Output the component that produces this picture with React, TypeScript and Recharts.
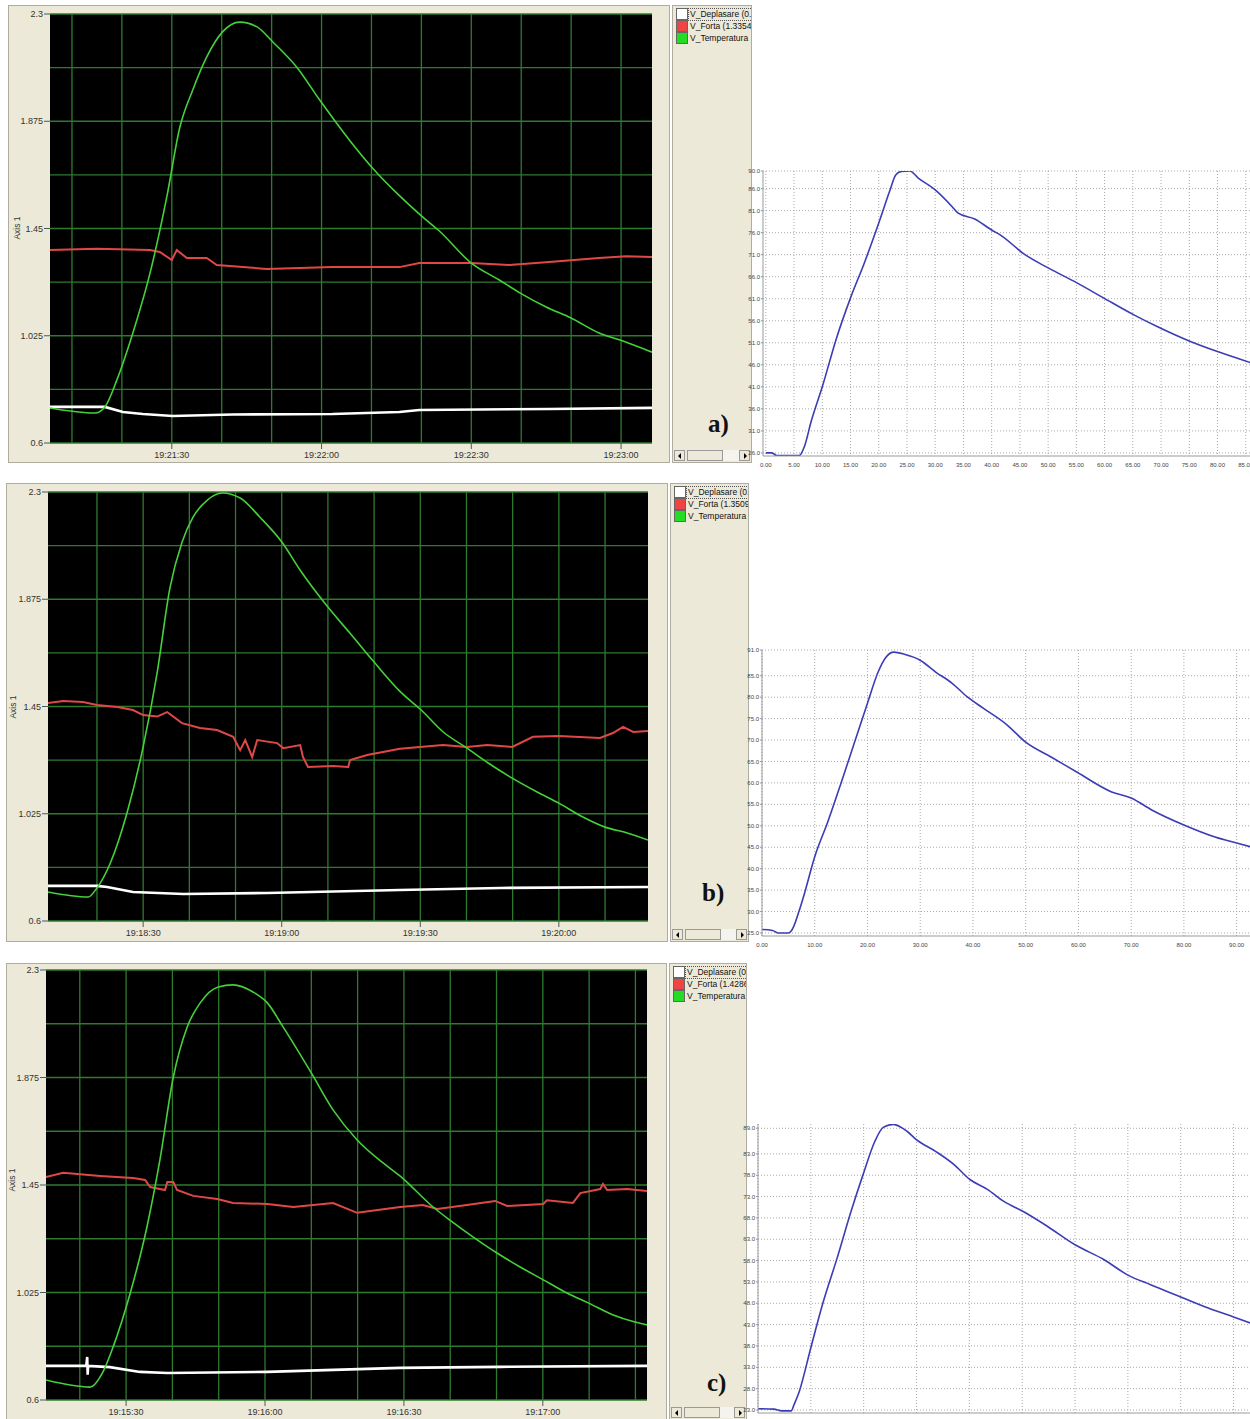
import { LineChart, Line, XAxis, YAxis, CartesianGrid } from "recharts";

// scope charts: time = seconds after 19:00:00, values in volts
// a) run at 19:21
const aTempT = [1265.6, 1274.6, 1276.6, 1279, 1282.2, 1285.6, 1289, 1291.6, 1294.2, 1297, 1300.2, 1303.6, 1307, 1310.2, 1315, 1319.6, 1325.6, 1330.2, 1335.6, 1340, 1343.6, 1350, 1355.6, 1359.8, 1365, 1370, 1375.6, 1379.8, 1386.2];
const aTempV = [0.739, 0.719, 0.743, 0.85, 1.036, 1.27, 1.575, 1.85, 1.999, 2.13, 2.23, 2.268, 2.25, 2.19, 2.09, 1.96, 1.8, 1.69, 1.58, 1.5, 1.44, 1.313, 1.246, 1.194, 1.139, 1.095, 1.036, 1.008, 0.96];
const aForceT = [1265.6, 1275, 1285.6, 1287.6, 1290, 1291, 1293, 1297, 1299, 1309, 1322.2, 1335.6, 1339.6, 1350, 1357.6, 1365.6, 1375.6, 1381, 1386.2];
const aForceV = [1.365, 1.37, 1.365, 1.357, 1.325, 1.365, 1.333, 1.333, 1.305, 1.29, 1.297, 1.297, 1.313, 1.313, 1.305, 1.317, 1.333, 1.34, 1.337];
const aDispT = [1265.6, 1276.6, 1280.2, 1284.2, 1290.2, 1302.2, 1322.2, 1335.6, 1339.6, 1365.6, 1386.2];
const aDispV = [0.743, 0.743, 0.723, 0.715, 0.707, 0.713, 0.715, 0.723, 0.731, 0.735, 0.739];
const aClockTicks = [1290, 1320, 1350, 1380];
const aClockGrid = [1270, 1280, 1290, 1300, 1310, 1320, 1330, 1340, 1350, 1360, 1370, 1380];

// b) run at 19:18
const bTempT = [1089.4, 1098.1, 1100, 1102.9, 1106.5, 1110, 1113, 1115.8, 1118.4, 1120.8, 1123.9, 1127.1, 1131, 1135.3, 1140.1, 1144, 1150, 1154.8, 1160, 1165.6, 1170.2, 1174.9, 1180.1, 1184.7, 1189.9, 1195.3, 1200, 1205.2, 1210, 1214.8, 1219.3];
const bTempV = [0.715, 0.695, 0.731, 0.83, 1.028, 1.29, 1.58, 1.92, 2.1, 2.2, 2.268, 2.296, 2.276, 2.2, 2.1, 1.99, 1.844, 1.74, 1.626, 1.51, 1.436, 1.35, 1.285, 1.226, 1.166, 1.111, 1.067, 1.012, 0.972, 0.949, 0.921];
const bForceT = [1089.4, 1092.7, 1097, 1100, 1104.4, 1107.8, 1110, 1113, 1115.2, 1118.4, 1122.3, 1126, 1129.5, 1131, 1132.1, 1133.6, 1134.7, 1139, 1140.3, 1144, 1144.6, 1145.7, 1151.1, 1154.4, 1154.8, 1158.5, 1165.6, 1174.9, 1180.1, 1184.5, 1189.9, 1194.4, 1200, 1208.9, 1211.7, 1213.9, 1216.1, 1219.3];
const bForceV = [1.464, 1.472, 1.468, 1.456, 1.448, 1.436, 1.416, 1.41, 1.428, 1.384, 1.365, 1.357, 1.33, 1.277, 1.317, 1.25, 1.317, 1.305, 1.285, 1.297, 1.25, 1.21, 1.214, 1.21, 1.238, 1.258, 1.283, 1.297, 1.29, 1.297, 1.29, 1.33, 1.333, 1.325, 1.345, 1.369, 1.349, 1.353];
const bDispT = [1089.4, 1100, 1102.2, 1107.8, 1118.7, 1136.8, 1165.6, 1187.3, 1219.3];
const bDispV = [0.739, 0.739, 0.735, 0.715, 0.707, 0.711, 0.723, 0.731, 0.735];
const bClockTicks = [1110, 1140, 1170, 1200];
const bClockGrid = [1100, 1110, 1120, 1130, 1140, 1150, 1160, 1170, 1180, 1190, 1200, 1210];

// c) run at 19:15
const cTempT = [912.7, 922.2, 925, 927.2, 930.9, 934.5, 937.3, 940.2, 943.2, 946, 949.9, 953.1, 957.4, 960.5, 963.9, 970, 974.7, 979.9, 985.5, 989.2, 996.3, 1000, 1004.9, 1010.1, 1015.1, 1020.1, 1025.2, 1029.8, 1035.2, 1039.9, 1042.5];
const cTempV = [0.679, 0.651, 0.711, 0.81, 1.023, 1.284, 1.549, 1.877, 2.075, 2.17, 2.233, 2.241, 2.213, 2.17, 2.075, 1.893, 1.747, 1.628, 1.537, 1.485, 1.363, 1.31, 1.245, 1.181, 1.126, 1.075, 1.023, 0.984, 0.936, 0.908, 0.897];
const cForceT = [912.7, 916.4, 924.4, 931.5, 934.1, 935.2, 938.4, 938.9, 940.2, 941, 944.5, 949.7, 953.1, 960.5, 966.1, 974.7, 979.9, 989.2, 994.1, 997.2, 1003.6, 1009.7, 1012.3, 1020.1, 1020.9, 1026.5, 1028.1, 1032.4, 1033, 1033.9, 1038.2, 1042.5];
const cForceV = [1.482, 1.498, 1.486, 1.478, 1.47, 1.442, 1.43, 1.462, 1.462, 1.43, 1.407, 1.395, 1.379, 1.375, 1.363, 1.379, 1.34, 1.363, 1.371, 1.355, 1.371, 1.387, 1.367, 1.375, 1.39, 1.379, 1.418, 1.434, 1.454, 1.43, 1.434, 1.426];
const cDispT = [912.7, 921.4, 921.6, 921.7, 921.8, 926.5, 933, 938.9, 960.5, 989.2, 1010.8, 1042.5];
const cDispV = [0.735, 0.735, 0.77, 0.7, 0.735, 0.73, 0.711, 0.707, 0.711, 0.727, 0.731, 0.735];
const cClockTicks = [930, 960, 990, 1020];
const cClockGrid = [920, 930, 940, 950, 960, 970, 980, 990, 1000, 1010, 1020, 1030, 1040];

const SCOPE_Y_TICKS = [0.6, 1.025, 1.45, 1.875, 2.3];
const SCOPE_Y_GRID = [0.6, 0.8125, 1.025, 1.2375, 1.45, 1.6625, 1.875, 2.0875, 2.3];

const DISP_NAME = "V_Deplasare (0.";
const TEMP_NAME = "V_Temperatura";
const FORCE_NAMES = ["V_Forta (1.3354", "V_Forta (1.3509", "V_Forta (1.4286"];
const PANEL_TAGS = ["a)", "b)", "c)"];

// temperature curves (s, °C)
const aRiseS = [0, 1, 2, 3, 5, 5.9, 6.9, 8, 10, 12.5, 15, 17.5, 20, 22, 23, 24, 25.5, 27, 30, 33, 34, 37, 40, 41.5, 45.9, 50, 55.1, 59.8, 65.1, 69.3, 75.2, 80, 85.8];
const aRiseC = [26, 26, 25.4, 25.4, 25.4, 25.4, 27.7, 33, 41, 52, 61.2, 69.3, 78.2, 85.7, 89.1, 89.9, 90, 88.4, 85.7, 81.9, 80.5, 79.1, 76.6, 75.5, 71, 68, 64.6, 61.2, 57.4, 54.7, 51.3, 49, 46.5];
const aRiseYTicks = [26, 31, 36, 41, 46, 51, 56, 61, 66, 71, 76, 81, 86, 90];
const aRiseXTicks = [0, 5, 10, 15, 20, 25, 30, 35, 40, 45, 50, 55, 60, 65, 70, 75, 80, 85];

const bRiseS = [0, 2, 3, 5, 5.5, 6, 7, 8, 10, 12.5, 15, 17.5, 20, 22, 23.5, 25, 27, 30, 33, 36, 39, 42, 46.5, 50, 54.9, 60, 66.3, 70, 73.9, 80, 85.9, 90, 93];
const bRiseC = [25.8, 25.6, 25, 25, 25.4, 26.5, 30, 34, 42.8, 51, 60, 69.3, 78.6, 85.8, 89.3, 90.5, 90, 88.6, 85.8, 83.3, 80, 77.4, 73.5, 69.5, 66, 62.3, 57.9, 56.5, 53.7, 50.2, 47.4, 46, 45];
const bRiseYTicks = [25, 30, 35, 40, 45, 50, 55, 60, 65, 70, 75, 80, 85, 91];
const bRiseXTicks = [0, 10, 20, 30, 40, 50, 60, 70, 80, 90];

const cRiseS = [0, 3, 4.5, 6.3, 6.8, 7.8, 10, 12.2, 15, 17.6, 19.9, 22.1, 23.7, 25.6, 28.2, 29.9, 33.6, 37.1, 40.1, 43.4, 46.6, 50.2, 54.8, 60, 65.5, 70, 74.4, 80, 85.2, 90, 93.4];
const cRiseC = [23.3, 23.2, 22.8, 22.8, 24.2, 27.3, 37.6, 47.7, 58.7, 69.5, 78.2, 85.9, 89.2, 89.9, 88.3, 86.4, 83.6, 80.5, 77, 74.7, 71.8, 69.5, 66, 61.7, 58.2, 54.6, 52.3, 49.5, 46.9, 44.8, 43.3];
const cRiseYTicks = [23, 28, 33, 38, 43, 48, 53, 58, 63, 68, 73, 78, 83, 89];
const cRiseXTicks = [0, 10, 20, 30, 40, 50, 60, 70, 80, 90];

const SANS = "'Liberation Sans', Arial, sans-serif";
const BEIGE = "#ece9d8";

type Pt = { t: number; v: number };
const zip = (t: number[], v: number[]): Pt[] => t.map((x, i) => ({ t: x, v: v[i] }));

function clock(s: number) {
  const m = Math.floor(s / 60);
  const sec = Math.round(s - m * 60);
  return `19:${String(m).padStart(2, "0")}:${String(sec).padStart(2, "0")}`;
}

interface ScopeBox {
  left: number;
  top: number;
  width: number;
  height: number;
  mt: number;
  mr: number;
  yw: number;
  xh: number;
}

interface ScopeProps {
  box: ScopeBox;
  domain: [number, number];
  ticks: number[];
  grid: number[];
  disp: Pt[];
  force: Pt[];
  temp: Pt[];
}

function Scope({ box, domain, ticks, grid, disp, force, temp }: ScopeProps) {
  return (
    <div style={{ position: "absolute", left: box.left, top: box.top }}>
      <LineChart width={box.width} height={box.height} margin={{ top: box.mt, right: box.mr, bottom: 0, left: 0 }}>
        <CartesianGrid fill="#000" fillOpacity={1} stroke="#2e7b2e" strokeWidth={1.3} horizontalValues={SCOPE_Y_GRID} verticalValues={grid} />
        <XAxis
          dataKey="t"
          type="number"
          domain={domain}
          ticks={ticks}
          interval={0}
          allowDataOverflow
          tickFormatter={clock}
          height={box.xh}
          axisLine={false}
          tickSize={6}
          tickMargin={3}
          tickLine={{ stroke: "#555" }}
          tick={{ fontSize: 9, fill: "#333", fontFamily: SANS }}
        />
        <YAxis
          type="number"
          domain={[0.6, 2.3]}
          ticks={SCOPE_Y_TICKS}
          interval={0}
          allowDataOverflow
          width={box.yw}
          axisLine={false}
          tickSize={6}
          tickMargin={1}
          tickLine={{ stroke: "#555" }}
          tick={{ fontSize: 9, fill: "#333", fontFamily: SANS }}
        />
        <Line data={disp} dataKey="v" type="linear" stroke="#ffffff" strokeWidth={2.6} dot={false} isAnimationActive={false} />
        <Line data={force} dataKey="v" type="linear" stroke="#e04848" strokeWidth={2} dot={false} isAnimationActive={false} />
        <Line data={temp} dataKey="v" type="monotone" stroke="#45d13a" strokeWidth={1.6} dot={false} isAnimationActive={false} />
      </LineChart>
    </div>
  );
}

interface TraceProps {
  left: number;
  top: number;
  clipH: number;
  width: number;
  height: number;
  mt: number;
  yw: number;
  data: { s: number; c: number }[];
  xDomain: [number, number];
  xTicks: number[];
  yDomain: [number, number];
  yTicks: number[];
}

function Trace({ left, top, clipH, width, height, mt, yw, data, xDomain, xTicks, yDomain, yTicks }: TraceProps) {
  return (
    <div style={{ position: "absolute", left, top, width: 1250 - left, height: clipH, overflow: "hidden" }}>
      <LineChart width={width} height={height} data={data} margin={{ top: mt, right: 0, bottom: 0, left: 0 }}>
        <CartesianGrid stroke="#a9a9a9" strokeDasharray="1 2" horizontalValues={yTicks} verticalValues={xTicks} />
        <XAxis
          dataKey="s"
          type="number"
          domain={xDomain}
          ticks={xTicks}
          interval={0}
          allowDataOverflow
          tickFormatter={(v: number) => v.toFixed(2)}
          height={14}
          axisLine={{ stroke: "#9a9a9a" }}
          tickLine={false}
          tickMargin={1}
          tick={{ fontSize: 6, fill: "#444", fontFamily: SANS }}
        />
        <YAxis
          type="number"
          domain={yDomain}
          ticks={yTicks}
          interval={0}
          allowDataOverflow
          tickFormatter={(v: number) => v.toFixed(1)}
          width={yw}
          axisLine={{ stroke: "#9a9a9a" }}
          tickSize={2}
          tickMargin={1}
          tickLine={{ stroke: "#9a9a9a" }}
          tick={{ fontSize: 6, fill: "#444", fontFamily: SANS }}
        />
        <Line dataKey="c" type="monotone" stroke="#3c3cb6" strokeWidth={1.6} dot={false} isAnimationActive={false} />
      </LineChart>
    </div>
  );
}

function LegendPanel({ left, top, width, height, force }: { left: number; top: number; width: number; height: number; force: string }) {
  const items = [
    { name: DISP_NAME, color: "#ffffff" },
    { name: force, color: "#ee4444" },
    { name: TEMP_NAME, color: "#22dd22" },
  ];
  return (
    <div
      style={{
        position: "absolute",
        left,
        top,
        width,
        height,
        background: BEIGE,
        border: "1px solid #b0ada0",
        boxSizing: "border-box",
        overflow: "hidden",
      }}
    >
      <div style={{ position: "absolute", left: 3, top: 2 }}>
        {items.map((it, i) => (
          <div key={it.name} style={{ display: "flex", alignItems: "center", height: 12 }}>
            <div style={{ width: 10, height: 10, background: it.color, border: "1px solid #666", flex: "none" }} />
            <div
              style={{
                fontFamily: SANS,
                fontSize: 8.5,
                lineHeight: "11px",
                whiteSpace: "nowrap",
                marginLeft: 1,
                padding: "0 1px",
                outline: i === 0 ? "1px dotted #555" : "none",
                color: "#111",
              }}
            >
              {it.name}
            </div>
          </div>
        ))}
      </div>
      <div style={{ position: "absolute", left: 1, right: 1, bottom: 1, height: 11, display: "flex" }}>
        <div style={{ width: 11, height: 11, background: BEIGE, border: "1px solid #999", boxSizing: "border-box", position: "relative" }}>
          <div style={{ position: "absolute", left: 3, top: 2, width: 0, height: 0, borderTop: "3px solid transparent", borderBottom: "3px solid transparent", borderRight: "3px solid #000" }} />
        </div>
        <div style={{ width: 36, height: 11, marginLeft: 2, background: BEIGE, border: "1px solid #999", boxSizing: "border-box" }} />
        <div style={{ flex: 1, height: 11, background: "#f4f3ee" }} />
        <div style={{ width: 11, height: 11, background: BEIGE, border: "1px solid #999", boxSizing: "border-box", position: "relative" }}>
          <div style={{ position: "absolute", left: 4, top: 2, width: 0, height: 0, borderTop: "3px solid transparent", borderBottom: "3px solid transparent", borderLeft: "3px solid #000" }} />
        </div>
      </div>
    </div>
  );
}

function Frame({ left, top, width, height }: { left: number; top: number; width: number; height: number }) {
  return (
    <div
      style={{
        position: "absolute",
        left,
        top,
        width,
        height,
        background: BEIGE,
        border: "1px solid #b0ada0",
        boxSizing: "border-box",
      }}
    />
  );
}

function AxisTitle({ x, y }: { x: number; y: number }) {
  return (
    <div
      style={{
        position: "absolute",
        left: x - 20,
        top: y - 6,
        width: 40,
        height: 12,
        textAlign: "center",
        fontFamily: SANS,
        fontSize: 8.5,
        lineHeight: "12px",
        color: "#333",
        transform: "rotate(-90deg)",
      }}
    >
      Axis 1
    </div>
  );
}

function Tag({ x, y, text }: { x: number; y: number; text: string }) {
  return (
    <div
      style={{
        position: "absolute",
        left: x,
        top: y,
        fontFamily: "'Liberation Serif', 'Times New Roman', serif",
        fontWeight: "bold",
        fontSize: 25,
        lineHeight: "25px",
        color: "#111",
      }}
    >
      {text}
    </div>
  );
}

export default function App() {
  const aRise = aRiseS.map((s, i) => ({ s, c: aRiseC[i] }));
  const bRise = bRiseS.map((s, i) => ({ s, c: bRiseC[i] }));
  const cRise = cRiseS.map((s, i) => ({ s, c: cRiseC[i] }));

  return (
    <div style={{ position: "absolute", left: 0, top: 0, width: 1250, height: 1419, overflow: "hidden", background: "#fff" }}>
      {/* row a */}
      <Frame left={8} top={5} width={662} height={458} />
      <Scope
        box={{ left: 8, top: 5, width: 660, height: 458, mt: 9, mr: 16, yw: 42, xh: 20 }}
        domain={[1265.6, 1386.2]}
        ticks={aClockTicks}
        grid={aClockGrid}
        disp={zip(aDispT, aDispV)}
        force={zip(aForceT, aForceV)}
        temp={zip(aTempT, aTempV)}
      />
      <AxisTitle x={17} y={228} />
      <LegendPanel left={672} top={5} width={80} height={458} force={FORCE_NAMES[0]} />
      <Tag x={708} y={411} text={PANEL_TAGS[0]} />
      <Trace left={745} top={160} clipH={310} width={529} height={310} mt={11} yw={18} data={aRise} xDomain={[-0.5, 90]} xTicks={aRiseXTicks} yDomain={[25.3, 90]} yTicks={aRiseYTicks} />

      {/* row b */}
      <Frame left={6} top={483} width={662} height={459} />
      <Scope
        box={{ left: 6, top: 483, width: 660, height: 459, mt: 9, mr: 18, yw: 42, xh: 21 }}
        domain={[1089.4, 1219.3]}
        ticks={bClockTicks}
        grid={bClockGrid}
        disp={zip(bDispT, bDispV)}
        force={zip(bForceT, bForceV)}
        temp={zip(bTempT, bTempV)}
      />
      <AxisTitle x={13} y={707} />
      <LegendPanel left={670} top={483} width={79} height={459} force={FORCE_NAMES[1]} />
      <Tag x={702} y={880} text={PANEL_TAGS[1]} />
      <Trace left={742} top={640} clipH={310} width={521} height={310} mt={10} yw={20} data={bRise} xDomain={[0, 95]} xTicks={bRiseXTicks} yDomain={[24.3, 91]} yTicks={bRiseYTicks} />

      {/* row c */}
      <Frame left={6} top={963} width={661} height={462} />
      <Scope
        box={{ left: 6, top: 963, width: 660, height: 456, mt: 7, mr: 19, yw: 40, xh: 19 }}
        domain={[912.7, 1042.5]}
        ticks={cClockTicks}
        grid={cClockGrid}
        disp={zip(cDispT, cDispV)}
        force={zip(cForceT, cForceV)}
        temp={zip(cTempT, cTempV)}
      />
      <AxisTitle x={12} y={1180} />
      <LegendPanel left={669} top={963} width={78} height={457} force={FORCE_NAMES[2]} />
      <Tag x={707} y={1370} text={PANEL_TAGS[2]} />
      <Trace left={738} top={1118} clipH={301} width={522} height={309} mt={6} yw={20} data={cRise} xDomain={[0, 95]} xTicks={cRiseXTicks} yDomain={[22.3, 90]} yTicks={cRiseYTicks} />
    </div>
  );
}
